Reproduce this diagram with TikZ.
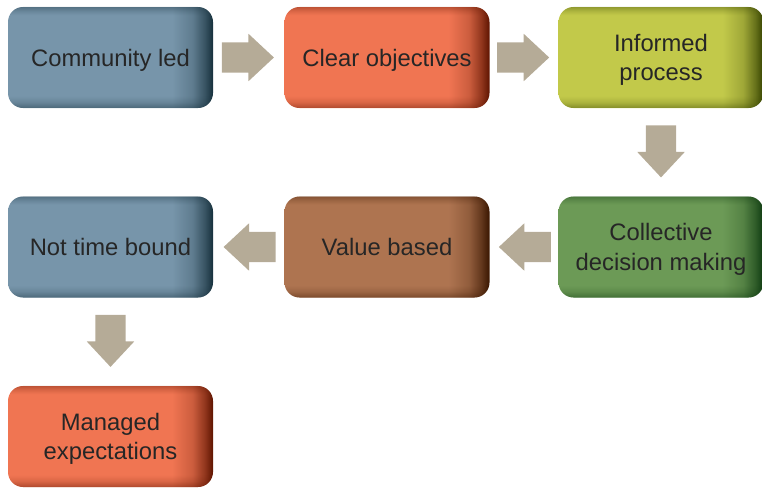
\documentclass[tikz,border=0pt]{standalone}
\usepackage{fontspec}
\setmainfont{Liberation Sans}
\usepackage{xcolor}
\usetikzlibrary{shapes, arrows.meta, positioning, fadings}

\definecolor{arrowtan}{HTML}{B5AB97}
\definecolor{txtgrey}{HTML}{262626}
\definecolor{slateA}{HTML}{7795AA}
\definecolor{slateB}{HTML}{16303C}
\definecolor{coralA}{HTML}{F07552}
\definecolor{coralB}{HTML}{5E1400}
\definecolor{limeA}{HTML}{C2C94A}
\definecolor{limeB}{HTML}{354200}
\definecolor{mossA}{HTML}{6C9A56}
\definecolor{mossB}{HTML}{0E3A10}
\definecolor{clayA}{HTML}{AE7450}
\definecolor{clayB}{HTML}{3A1600}
\colorlet{stagebase}{slateA}
\colorlet{stageedge}{slateB}

\pgfdeclarehorizontalshading[stagebase,stageedge]{stagegrad}{100bp}{color(0bp)=(stagebase); color(25bp)=(stagebase); color(65bp)=(stagebase); color(70bp)=(stagebase!75!stageedge); color(73bp)=(stagebase!35!stageedge); color(75bp)=(stageedge); color(100bp)=(stageedge)}
\pgfdeclareverticalshading{rimshade}{100bp}{color(0bp)=(pgftransparent!55); color(25bp)=(pgftransparent!55); color(28bp)=(pgftransparent!85); color(31bp)=(pgftransparent); color(71bp)=(pgftransparent); color(73bp)=(pgftransparent!85); color(75bp)=(pgftransparent!65); color(100bp)=(pgftransparent!65)}
\pgfdeclarefading{rim}{\pgfuseshading{rimshade}}

\tikzset{
  stage/.style 2 args={/utils/exec={\colorlet{stagebase}{#1}\colorlet{stageedge}{#2}},
    shading=stagegrad, rounded corners=15pt, minimum width=205pt, minimum height=101pt,
    inner sep=0pt, text=txtgrey, align=center, text depth=0pt,
    font=\fontsize{23.8}{29.5}\selectfont,
    postaction={fill=#2, path fading=rim}},
  flow/.style={single arrow, fill=arrowtan, draw=none, sloped, allow upside down,
    minimum height=52pt, minimum width=47pt, single arrow head extend=8.5pt,
    single arrow tip angle=86, inner xsep=0pt, inner ysep=15pt, xshift=-9pt}
}

\begin{document}
\begin{tikzpicture}[x=1pt,y=-1pt]
  \useasboundingbox (0,0) rectangle (762,488);

  % top row
  \node[stage={slateA}{slateB}] (led) at (110.5,57.5) {Community led};
  \node[stage={coralA}{coralB}] (obj) at (387,57.5) {Clear objectives};
  \node[stage={limeA}{limeB}] (inf) at (661,57.5) {Informed\\process};

  % middle row
  \node[stage={mossA}{mossB}] (dec) at (661,247) {Collective\\decision making};
  \node[stage={clayA}{clayB}] (val) at (387,247) {Value based};
  \node[stage={slateA}{slateB}] (tim) at (110.5,247) {Not time bound};

  % bottom row
  \node[stage={coralA}{coralB}] (exp) at (110.5,436.5) {Managed\\expectations};

  \path (led) -- node[flow] {} (obj);
  \path (obj) -- node[flow] {} (inf);
  \path (inf) -- node[flow] {} (dec);
  \path (dec) -- node[flow] {} (val);
  \path (val) -- node[flow] {} (tim);
  \path (tim) -- node[flow] {} (exp);
\end{tikzpicture}
\end{document}
